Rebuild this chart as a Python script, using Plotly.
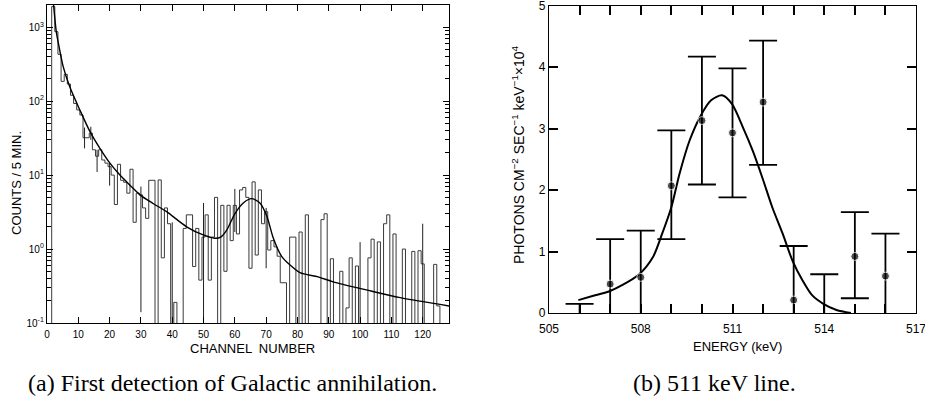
import plotly.graph_objects as go

# ---------------- Panel (a) data ----------------
channels = list(range(128))
counts = [0, 0, 1900, 870, 430, 185, 230, 170, 120, 93,
          76, 65, 32, 32, 37, 22, 18, 22, 16, 14.5,
          13, 10, 4.0, 14, 8.5, 8, 5.7, 12, 2.3, 5.7,
          5.4, 3.6, 2.6, 8.5, 8.5, 0, 8.6, 0.76, 3.6, 2.2,
          0, 0.19, 0, 0, 1.9, 2.9, 2.9, 0.58, 1.9, 0.38,
          1.45, 2.9, 0.38, 1.45, 5.0, 0, 3.9, 0.5, 3.9, 1.3,
          3.9, 1.6, 6.3, 6.8, 5.0, 0.55, 8.1, 0.83, 6.3, 2.2,
          3.2, 0.97, 1.3, 1.07, 0.8, 0.35, 0.35, 0, 1.45, 1.45,
          0, 1.7, 0, 2.9, 0, 0, 0, 0, 2.5, 3.0,
          0, 0.74, 0, 0, 0.5, 0, 0.16, 0.76, 0, 0.59,
          0, 0, 0, 0.76, 1.36, 0, 1.25, 0, 2.2, 2.9,
          0, 1.6, 0, 0, 1.0, 0, 0, 0.93, 0, 0.95,
          0.63, 0, 0, 0, 0.62, 0.17, 0, 0]

err_ch = [12, 14, 16, 20, 30, 40, 50, 60, 70, 100, 120]
err_lo = [23, 30, 11, 7.2, 0.14, 0.1, 0.1, 1.7, 0.55, 0.1, 0.1]
err_hi = [44, 45, 22, 14.5, 7.0, 2.3, 4.2, 6.5, 3.6, 1.24, 2.2]

fit_ch = [2.1, 3.0, 3.6, 5.2, 7.3, 10.5, 13.7, 16.9, 20.1, 23.3, 26.5, 29.7,
          34, 38.2, 44.6, 49.9, 53.6, 55.5, 57.4, 60, 62.7, 65.3, 68, 70.2,
          72.3, 75, 77.6, 80.8, 86.6, 91.4, 102, 112.8, 128.4]
fit_counts = [2000, 850, 620, 290, 155, 76, 39, 23, 14.5, 10, 7.3, 5.4,
              4.1, 3.2, 2.0, 1.55, 1.40, 1.45, 1.8, 3.0, 4.2, 4.8, 4.2, 2.8,
              1.4, 0.79, 0.61, 0.48, 0.42, 0.36, 0.28, 0.22, 0.17]

log_tick_vals = [0.1, 1, 10, 100, 1000]
log_tick_text = ["10<sup>-1</sup>", "10<sup>0</sup>", "10<sup>1</sup>",
                 "10<sup>2</sup>", "10<sup>3</sup>"]
chan_ticks = [0, 10, 20, 30, 40, 50, 60, 70, 80, 90, 100, 110, 120]

# ---------------- Panel (b) data ----------------
energy = [506, 507, 508, 509, 510, 511, 512, 513, 514, 515, 516]
flux = [0, 0.47, 0.58, 2.07, 3.13, 2.93, 3.43, 0.21, 0, 0.92, 0.60]
flux_hi = [0.15, 1.20, 1.34, 2.97, 4.17, 3.98, 4.43, 1.09, 0.63, 1.64, 1.29]
flux_lo = [0, 0, 0, 1.20, 2.09, 1.88, 2.41, 0, 0, 0.24, 0]

fit_e = [505.96, 506.45, 506.96, 507.42, 507.95, 508.4, 508.7, 509.0, 509.27,
         509.6, 509.96, 510.3, 510.66, 510.98, 511.34, 511.66, 511.99, 512.3,
         512.64, 512.97, 513.3, 513.6, 513.97, 514.4, 514.87]
fit_flux = [0.21, 0.28, 0.35, 0.46, 0.63, 0.91, 1.29, 1.72, 2.27,
            2.81, 3.21, 3.46, 3.54, 3.40, 3.02, 2.64, 2.18, 1.72,
            1.29, 0.84, 0.52, 0.29, 0.15, 0.05, 0]

e_ticks = list(range(505, 518))
e_labels = ["505", "", "", "508", "", "", "511", "", "", "514", "", "", "517"]
f_ticks = [0, 1, 2, 3, 4, 5]

# ---------------- build ----------------
SANS = "Liberation Sans"
SERIF = "Liberation Serif"
fig = go.Figure()

# histogram steps
hx, hy = [], []
for c, v in zip(channels, counts):
    yv = v if v > 0 else 0.01
    hx += [c - 0.5, c + 0.5]
    hy += [yv, yv]
fig.add_trace(go.Scatter(x=hx, y=hy, mode="lines", line=dict(color="#3a3a3a", width=1),
                         xaxis="x", yaxis="y", showlegend=False, hoverinfo="skip"))
# histogram error bars
ex, ey = [], []
for c, lo, hi in zip(err_ch, err_lo, err_hi):
    ex += [c, c, None]
    ey += [lo, hi, None]
fig.add_trace(go.Scatter(x=ex, y=ey, mode="lines", line=dict(color="#222", width=1),
                         xaxis="x", yaxis="y", showlegend=False, hoverinfo="skip"))
# fit curve
fig.add_trace(go.Scatter(x=fit_ch, y=fit_counts, mode="lines",
                         line=dict(color="black", width=1.4, shape="spline", smoothing=0.8),
                         xaxis="x", yaxis="y", showlegend=False))

# panel b
fig.add_trace(go.Scatter(x=fit_e, y=fit_flux, mode="lines",
                         line=dict(color="black", width=2, shape="spline", smoothing=0.8),
                         xaxis="x2", yaxis="y2", showlegend=False))
# lower bars that reach the axis are extended a hair below it so their caps are hidden by clipping
minus = [(f - l) + (0.06 if l == 0 else 0) for f, l in zip(flux, flux_lo)]
fig.add_trace(go.Scatter(
    x=energy, y=flux, mode="markers",
    marker=dict(color="black", size=[8 if f > 0 else 0 for f in flux]),
    error_y=dict(type="data", symmetric=False,
                 array=[h - f for h, f in zip(flux_hi, flux)],
                 arrayminus=minus,
                 color="black", thickness=1.8, width=14),
    xaxis="x2", yaxis="y2", showlegend=False))

minor_vals = []
for d in [0.1, 1, 10, 100, 1000]:
    for m in range(2, 10):
        minor_vals.append(d * m)

axcommon = dict(showline=True, linecolor="black", linewidth=1.3, ticks="inside",
                tickcolor="black", showgrid=False, zeroline=False, automargin=False,
                ticklabeloverflow="allow")

fig.update_layout(
    template="none",
    width=925, height=400, margin=dict(l=0, r=0, t=0, b=0, pad=0),
    paper_bgcolor="white", plot_bgcolor="white",
    xaxis=dict(domain=[0.0508, 0.4854], range=[0, 128.4], tickvals=chan_ticks,
               ticklen=6, tickwidth=1, mirror="ticks", anchor="y", ticklabelstandoff=2,
               tickfont=dict(family=SANS, size=10, color="black"), **axcommon),
    yaxis=dict(domain=[0.1925, 0.9875], type="log", range=[-1, 3.3],
               tickvals=log_tick_vals, ticktext=log_tick_text, ticklen=6, tickwidth=1,
               mirror="allticks", anchor="x",
               minor=dict(tickvals=minor_vals, ticklen=4, ticks="inside", tickcolor="black"),
               tickfont=dict(family=SANS, size=10, color="black"), **axcommon),
    xaxis2=dict(domain=[0.5935, 0.9903], range=[505, 517], tickvals=e_ticks, ticktext=e_labels,
                ticklen=9, tickwidth=1.5, mirror="ticks", anchor="y2", ticklabelstandoff=4,
                tickfont=dict(family=SANS, size=12, color="black"), **axcommon),
    yaxis2=dict(domain=[0.2175, 0.986], range=[0, 5], tickvals=f_ticks,
                ticklen=9, tickwidth=1.5, mirror="ticks", anchor="x2",
                tickfont=dict(family=SANS, size=12, color="black"), **axcommon),
)

ann = [
    dict(text="COUNTS / 5 MIN.", x=16, y=183, textangle=-90, size=13, fam=SANS),
    dict(text="CHANNEL  NUMBER", x=252, y=348, textangle=0, size=13, fam=SANS),
    dict(text="ENERGY (keV)", x=737, y=346, textangle=0, size=13, fam=SANS),
    dict(text="PHOTONS CM<sup>−2</sup> SEC<sup>−1</sup> keV<sup>−1</sup>×10<sup>4</sup>",
         x=518, y=155, textangle=-90, size=14, fam=SANS),
    dict(text="(a) First detection of Galactic annihilation.", x=232, y=383,
         textangle=0, size=24, fam=SERIF),
    dict(text="(b) 511 keV line.", x=714, y=383, textangle=0, size=24, fam=SERIF),
]
for a in ann:
    fig.add_annotation(text=a["text"], x=a["x"] / 925, y=1 - a["y"] / 400, xref="paper", yref="paper",
                       xanchor="center", yanchor="middle", showarrow=False,
                       textangle=a["textangle"], font=dict(family=a["fam"], size=a["size"], color="black"))

fig.write_html("out.html")
